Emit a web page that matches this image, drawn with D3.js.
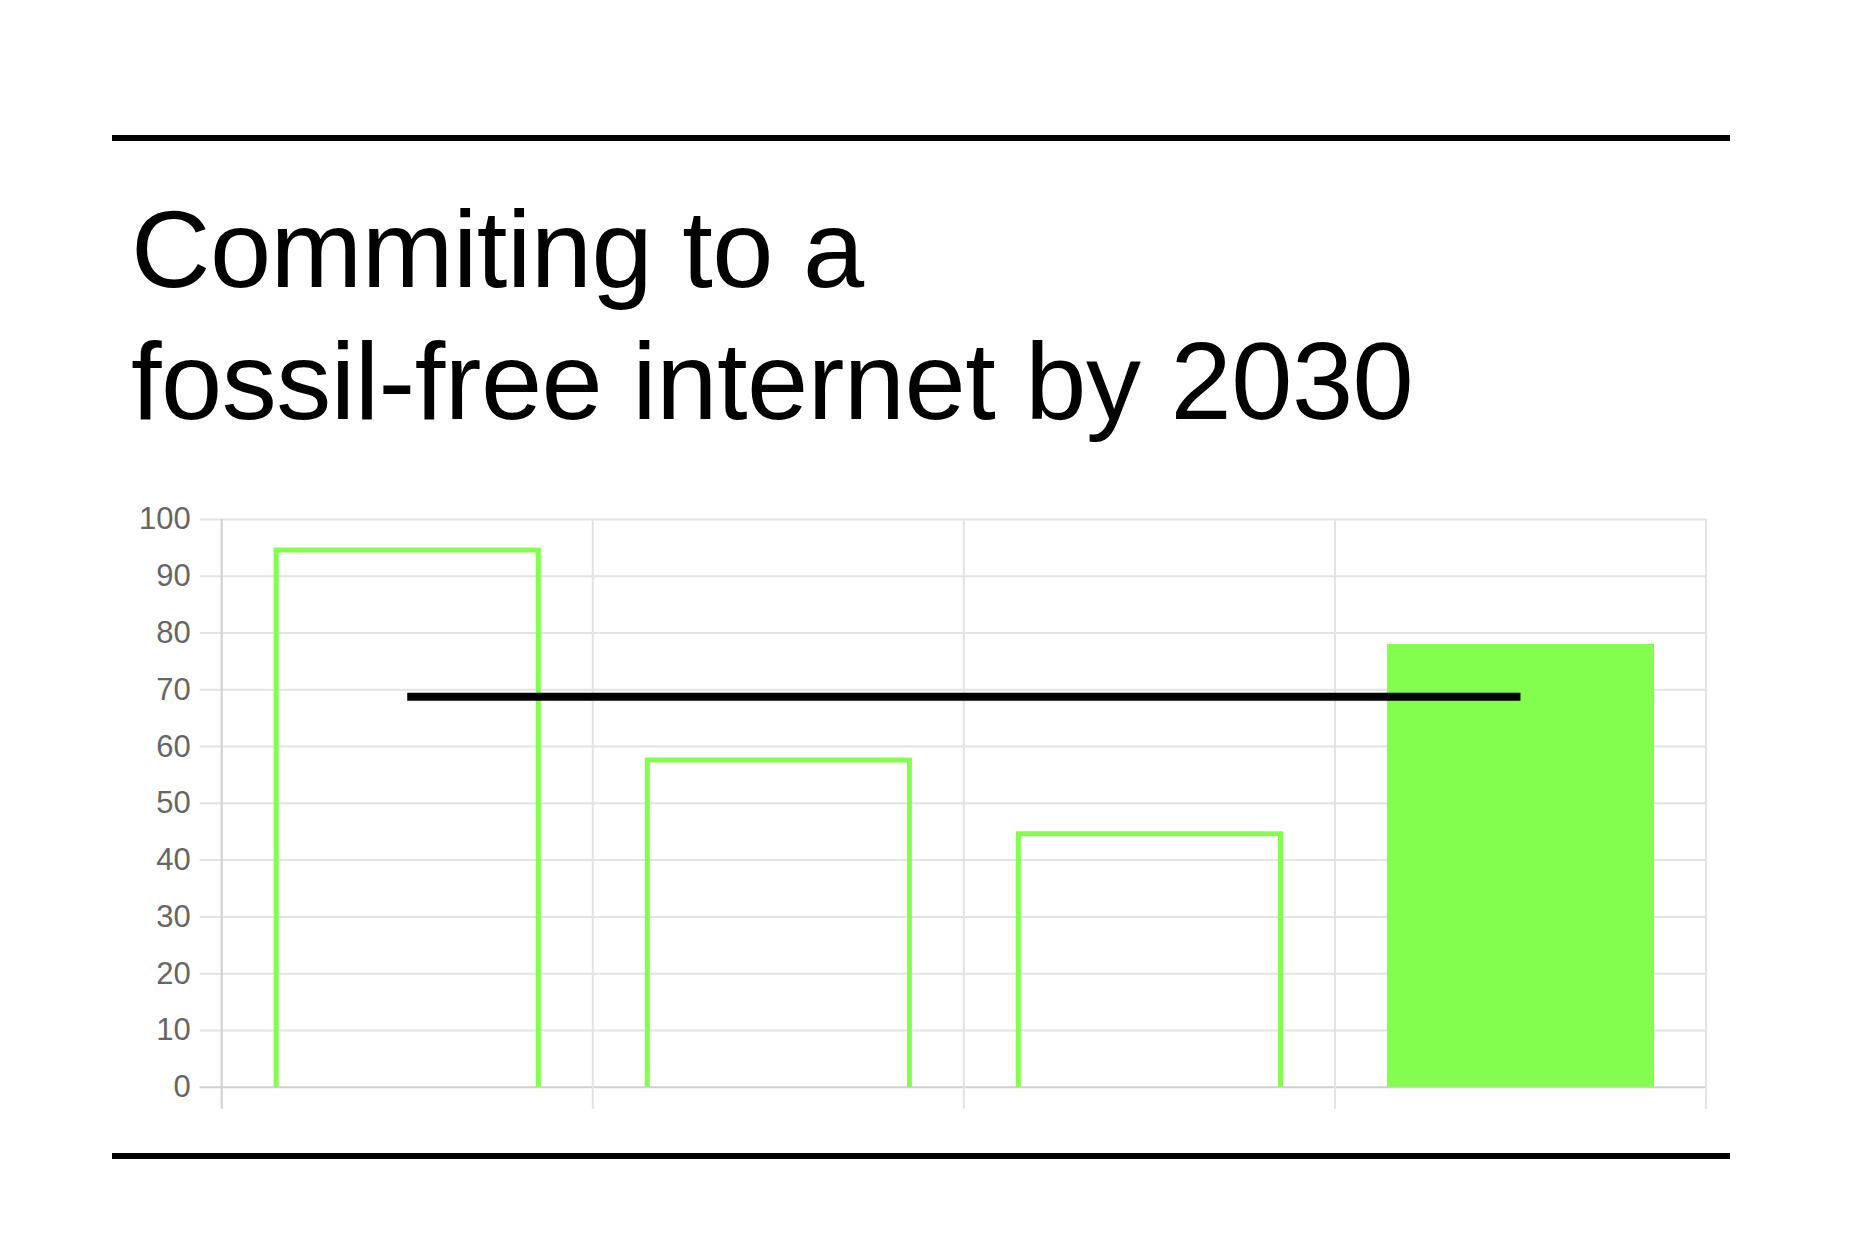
<!DOCTYPE html>
<html>
<head>
<meta charset="utf-8">
<script src="https://cdn.jsdelivr.net/npm/d3@7"></script>
<style>
  body { margin: 0; background: #fff; }
  svg { display: block; }
</style>
</head>
<body>
<script>
// chart values
var categories = ["A", "B", "C", "D"];
var barValues = [95, 58, 45, 78];
var barFilled = [false, false, false, true];
var lineValues = [68.7, 68.7, 68.7, 68.7];
var yTicks = [0, 10, 20, 30, 40, 50, 60, 70, 80, 90, 100];
var titleLines = ["Commiting to a", "fossil-free internet by 2030"];

var width = 1868;
var height = 1240;
var green = "#83fd4e";

var svg = d3.select("body").append("svg").attr("width", width).attr("height", height);

// rules above and below
svg.append("rect").attr("x", 112).attr("y", 135).attr("width", 1618).attr("height", 6).attr("fill", "#000");
svg.append("rect").attr("x", 112).attr("y", 1153).attr("width", 1618).attr("height", 6).attr("fill", "#000");

// title
svg.selectAll("text.title").data(titleLines).enter().append("text")
    .attr("class", "title")
    .attr("x", 131)
    .attr("y", function (d, i) { return 287 + i * 132; })
    .attr("font-family", "'Liberation Sans', Arial, Helvetica, sans-serif")
    .attr("font-size", 110)
    .attr("letter-spacing", -0.5)
    .attr("fill", "#000")
    .text(function (d) { return d; });

var x = d3.scaleBand().domain(categories).range([221.7, 1706]).paddingInner(0).paddingOuter(0);
var y = d3.scaleLinear().domain([0, 100]).range([1086.7, 519]);
var barW = x.bandwidth() * 0.72;

// horizontal grid + y tick labels
var yaxis = d3.axisLeft(y).tickValues(yTicks).tickSize(22).tickPadding(9);
var gy = svg.append("g").attr("transform", "translate(221.7,0)").call(yaxis);
gy.select(".domain").remove();
gy.selectAll(".tick line").attr("x2", 1706 - 221.7).attr("x1", -22)
    .attr("stroke", function (d) { return d === 0 ? "#cfcfcf" : "#e3e3e3"; }).attr("stroke-width", 2);
gy.selectAll(".tick text").attr("x", -31)
    .attr("font-family", "'Liberation Sans', Arial, Helvetica, sans-serif")
    .attr("font-size", 31).attr("fill", "#666");

// vertical grid at category borders
var xBorders = categories.map(function (c) { return x(c); }).concat([1706]);
svg.selectAll("line.vgrid").data(xBorders).enter().append("line")
    .attr("class", "vgrid")
    .attr("x1", function (d) { return d; }).attr("x2", function (d) { return d; })
    .attr("y1", y(100)).attr("y2", y(0) + 22)
    .attr("stroke", function (d, i) { return i === 0 ? "#cfcfcf" : "#e3e3e3"; })
    .attr("stroke-width", 2);

// bars
var bars = categories.map(function (c, i) {
    return { cat: c, v: barValues[i], filled: barFilled[i] };
});

svg.selectAll("rect.bar").data(bars.filter(function (d) { return d.filled; })).enter().append("rect")
    .attr("class", "bar")
    .attr("x", function (d) { return x(d.cat) + (x.bandwidth() - barW) / 2; })
    .attr("y", function (d) { return y(d.v); })
    .attr("width", barW)
    .attr("height", function (d) { return y(0) - y(d.v); })
    .attr("fill", green);

var sw = 5;
svg.selectAll("path.bar").data(bars.filter(function (d) { return !d.filled; })).enter().append("path")
    .attr("class", "bar")
    .attr("d", function (d) {
        var x0 = x(d.cat) + (x.bandwidth() - barW) / 2 + sw / 2;
        var x1 = x0 + barW - sw;
        var yt = y(d.v) + sw / 2;
        return "M" + x0 + "," + y(0) + "V" + yt + "H" + x1 + "V" + y(0);
    })
    .attr("fill", "none")
    .attr("stroke", green)
    .attr("stroke-width", sw);

// flat line across category centres
var line = d3.line()
    .x(function (d, i) { return x(categories[i]) + x.bandwidth() / 2; })
    .y(function (d) { return y(d); });
svg.append("path").datum(lineValues)
    .attr("d", line)
    .attr("fill", "none")
    .attr("stroke", "#000")
    .attr("stroke-width", 8);
</script>
</body>
</html>
